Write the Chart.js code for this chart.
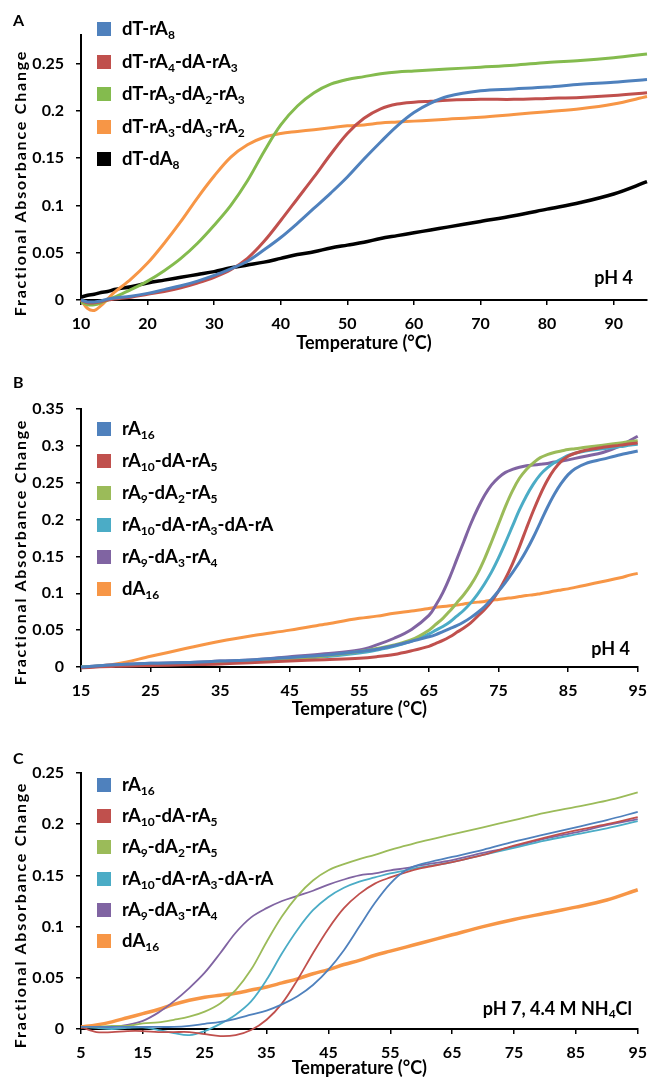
<!DOCTYPE html>
<html>
<head>
<meta charset="utf-8">
<script src="https://cdn.jsdelivr.net/npm/chart.js@4.4.1/dist/chart.umd.min.js"></script>
<style>
  body { margin: 0; width: 656px; height: 1079px; background: #fff; position: relative; overflow: hidden;
         font-family: Lato, "Open Sans", sans-serif; font-weight: bold; color: #000; }
  canvas { position: absolute; left: 0; }
  .letter { position: absolute; left: 13px; font-size: 16px; line-height: 20px; }
  .ytitle { position: absolute; font-size: 16px; letter-spacing: 1.8px; white-space: nowrap;
            transform: translate(-50%, -50%) rotate(-90deg); }
  .row { position: absolute; left: 97px; font-size: 18.5px; line-height: 22px; white-space: nowrap; }
  .sw { display: inline-block; width: 14px; height: 14px; vertical-align: -1px; margin-right: 11px; }
  sub { font-size: 12px; vertical-align: -4px; line-height: 0; }
  .note { position: absolute; font-size: 18px; line-height: 20px; white-space: nowrap; }
  .note sub { font-size: 12px; vertical-align: -3px; }
</style>
</head>
<body>
<canvas id="chartA" width="656" height="360" style="top:0px"></canvas>
<canvas id="chartB" width="656" height="366" style="top:360px"></canvas>
<canvas id="chartC" width="656" height="359" style="top:720px"></canvas>

<script>
// ---- Panel A: dT-rA8 family, pH 4 ----
const tempsA = [10, 11, 12, 13, 14, 15, 17.5, 20, 22.5, 25, 27.5, 30, 32.5, 35, 37.5, 40, 42.5, 45, 47.5, 50,
                52.5, 55, 57.5, 60, 62.5, 65, 70, 75, 80, 85, 90, 95];
const namesA = ["dT-rA8", "dT-rA4-dA-rA3", "dT-rA3-dA2-rA3", "dT-rA3-dA3-rA2", "dT-dA8"];
const dT_rA8 = [0, -0.002, -0.002, -0.001, 0.001, 0.002, 0.004, 0.007, 0.011, 0.015, 0.02, 0.026, 0.033, 0.041, 0.053, 0.066,
                0.081, 0.097, 0.113, 0.13, 0.149, 0.167, 0.184, 0.198, 0.208, 0.215, 0.221, 0.223, 0.225, 0.228, 0.23, 0.233];
const dT_rA4_dA_rA3 = [0, -0.003, -0.003, -0.002, 0, 0.001, 0.003, 0.006, 0.009, 0.013, 0.018, 0.024, 0.032, 0.044, 0.062, 0.084,
                0.107, 0.13, 0.154, 0.176, 0.192, 0.202, 0.207, 0.209, 0.21, 0.211, 0.212, 0.212, 0.213, 0.214, 0.216, 0.219];
const dT_rA3_dA2_rA3 = [-0.002, -0.005, -0.005, -0.003, 0, 0.003, 0.011, 0.02, 0.031, 0.044, 0.06, 0.079, 0.1, 0.126, 0.157, 0.185,
                0.205, 0.219, 0.228, 0.233, 0.236, 0.239, 0.241, 0.242, 0.243, 0.244, 0.246, 0.248, 0.251, 0.253, 0.256, 0.26];
const dT_rA3_dA3_rA2 = [0, -0.009, -0.011, -0.006, 0.001, 0.008, 0.022, 0.039, 0.06, 0.083, 0.108, 0.131, 0.151, 0.164, 0.172, 0.176,
                0.178, 0.18, 0.182, 0.184, 0.185, 0.187, 0.188, 0.189, 0.19, 0.191, 0.193, 0.196, 0.199, 0.202, 0.207, 0.215];
const dT_dA8 = [0.003, 0.005, 0.006, 0.008, 0.009, 0.011, 0.014, 0.018, 0.021, 0.024, 0.027, 0.03, 0.034, 0.037, 0.04, 0.044,
                0.048, 0.051, 0.055, 0.058, 0.061, 0.065, 0.068, 0.071, 0.074, 0.077, 0.083, 0.089, 0.096, 0.103, 0.112, 0.125];
const xTicksA = [10, 20, 30, 40, 50, 60, 70, 80, 90];
const yTicksA = [0, 0.05, 0.1, 0.15, 0.2, 0.25];

// ---- Panel B: rA16 family, pH 4 ----
const tempsB = [15, 20, 25, 30, 35, 40, 45, 50, 55, 57.5, 60, 62.5, 65, 66, 67, 68, 69, 70, 71, 72, 73, 74, 75, 76, 77, 78,
                79, 80, 81, 82, 83, 84, 85, 86, 87.5, 90, 92.5, 94, 95];
const namesB = ["rA16", "rA10-dA-rA5", "rA9-dA2-rA5", "rA10-dA-rA3-dA-rA", "rA9-dA3-rA4", "dA16"];
const rA16_B = [0, 0.003, 0.005, 0.006, 0.008, 0.01, 0.013, 0.016, 0.021, 0.024, 0.029, 0.035, 0.041, 0.044, 0.048, 0.052,
                0.056, 0.061, 0.067, 0.074, 0.082, 0.092, 0.103, 0.115, 0.128, 0.142, 0.158, 0.176, 0.196, 0.216, 0.234,
                0.249, 0.261, 0.269, 0.276, 0.282, 0.288, 0.291, 0.293];
const rA10_dA_rA5_B = [-0.001, 0.001, 0.002, 0.003, 0.004, 0.006, 0.008, 0.01, 0.012, 0.014, 0.017, 0.022, 0.028, 0.032, 0.036,
                0.041, 0.047, 0.053, 0.06, 0.069, 0.078, 0.089, 0.103, 0.12, 0.14, 0.163, 0.188, 0.212, 0.234, 0.253, 0.268,
                0.279, 0.286, 0.29, 0.294, 0.298, 0.301, 0.303, 0.304];
const rA9_dA2_rA5_B = [0, 0.002, 0.004, 0.005, 0.006, 0.008, 0.011, 0.015, 0.021, 0.025, 0.03, 0.037, 0.05, 0.058, 0.066, 0.076,
                0.087, 0.098, 0.111, 0.127, 0.147, 0.17, 0.194, 0.218, 0.239, 0.256, 0.268, 0.277, 0.284, 0.288, 0.291,
                0.293, 0.295, 0.296, 0.298, 0.301, 0.304, 0.306, 0.307];
const rA10_dA_rA3_dA_rA_B = [0, 0.002, 0.004, 0.005, 0.006, 0.008, 0.011, 0.014, 0.019, 0.023, 0.028, 0.035, 0.045, 0.05, 0.055,
                0.061, 0.069, 0.077, 0.087, 0.099, 0.113, 0.129, 0.148, 0.169, 0.191, 0.213, 0.232, 0.248, 0.261, 0.27,
                0.277, 0.282, 0.287, 0.29, 0.293, 0.296, 0.299, 0.301, 0.302];
const rA9_dA3_rA4_B = [0, 0.003, 0.005, 0.006, 0.008, 0.01, 0.014, 0.018, 0.023, 0.03, 0.039, 0.051, 0.07, 0.084, 0.101, 0.122,
                0.146, 0.17, 0.194, 0.215, 0.233, 0.247, 0.257, 0.264, 0.268, 0.271, 0.273, 0.274, 0.275, 0.276, 0.278,
                0.279, 0.281, 0.283, 0.286, 0.291, 0.3, 0.308, 0.313];
const dA16_B = [-0.001, 0.004, 0.0145, 0.025, 0.035, 0.043, 0.05, 0.058, 0.066, 0.069, 0.073, 0.076, 0.0795, 0.081, 0.082, 0.083,
                0.084, 0.0855, 0.087, 0.088, 0.089, 0.0905, 0.0916, 0.093, 0.094, 0.0955, 0.097, 0.098, 0.0995, 0.101,
                0.103, 0.1045, 0.106, 0.108, 0.111, 0.116, 0.121, 0.125, 0.127];
const xTicksB = [15, 25, 35, 45, 55, 65, 75, 85, 95];
const yTicksB = [0, 0.05, 0.1, 0.15, 0.2, 0.25, 0.3, 0.35];

// ---- Panel C: rA16 family, pH 7, 4.4 M NH4Cl ----
const tempsC = [5, 7.5, 10, 12.5, 15, 17.5, 20, 22.5, 25, 27.5, 30, 32.5, 35, 37.5, 40, 42.5, 45, 47.5, 50, 52.5, 55, 57.5,
                60, 65, 70, 75, 80, 85, 90, 95];
const namesC = ["rA16", "rA10-dA-rA5", "rA9-dA2-rA5", "rA10-dA-rA3-dA-rA", "rA9-dA3-rA4", "dA16"];
const rA16_C = [0.002, 0.002, 0.002, 0.002, 0.002, 0.002, 0.002, 0.003, 0.005, 0.007, 0.01, 0.014, 0.018, 0.024, 0.032, 0.043,
                0.058, 0.077, 0.1, 0.123, 0.142, 0.155, 0.161, 0.168, 0.175, 0.183, 0.19, 0.197, 0.204, 0.212];
const rA10_dA_rA5_C = [0.002, -0.003, -0.003, -0.002, -0.002, -0.003, -0.003, -0.003, -0.005, -0.007, -0.006, -0.001, 0.009,
                0.025, 0.048, 0.074, 0.098, 0.118, 0.132, 0.142, 0.148, 0.153, 0.157, 0.163, 0.17, 0.179, 0.187, 0.194, 0.2, 0.207];
const rA9_dA2_rA5_C = [0.002, 0.002, 0.003, 0.003, 0.0055, 0.0065, 0.009, 0.012, 0.017, 0.025, 0.038, 0.058, 0.085, 0.11, 0.13,
                0.145, 0.155, 0.161, 0.166, 0.17, 0.175, 0.179, 0.183, 0.19, 0.197, 0.204, 0.211, 0.217, 0.223, 0.231];
const rA10_dA_rA3_dA_rA_C = [0.002, 0.001, 0, 0.001, 0.0015, -0.001, -0.004, -0.006, -0.002, 0.005, 0.014, 0.027, 0.048, 0.074,
                0.097, 0.116, 0.129, 0.138, 0.144, 0.148, 0.152, 0.155, 0.158, 0.163, 0.17, 0.177, 0.184, 0.19, 0.196, 0.203];
const rA9_dA3_rA4_C = [0.002, 0.002, 0.002, 0.004, 0.008, 0.016, 0.027, 0.04, 0.055, 0.074, 0.094, 0.109, 0.118, 0.125, 0.13,
                0.135, 0.141, 0.146, 0.15, 0.152, 0.155, 0.157, 0.16, 0.165, 0.172, 0.178, 0.186, 0.192, 0.199, 0.205];
const dA16_C = [0.002, 0.004, 0.007, 0.011, 0.015, 0.019, 0.024, 0.028, 0.031, 0.033, 0.035, 0.038, 0.041, 0.045, 0.049, 0.054,
                0.058, 0.063, 0.067, 0.072, 0.076, 0.08, 0.084, 0.092, 0.1, 0.107, 0.113, 0.119, 0.126, 0.136];
const xTicksC = [5, 15, 25, 35, 45, 55, 65, 75, 85, 95];
const yTicksC = [0, 0.05, 0.1, 0.15, 0.2, 0.25];

// colours
const colorsA = ["#4F81BD", "#C0504D", "#84BB4E", "#F79646", "#000000"];
const colorsBC = ["#4F81BD", "#C0504D", "#9BBB59", "#4BACC6", "#8064A2", "#F79646"];

const panels = [
    { id: "chartA", letter: "A", temps: tempsA, names: namesA,
      series: [dT_rA8, dT_rA4_dA_rA3, dT_rA3_dA2_rA3, dT_rA3_dA3_rA2, dT_dA8],
      colors: colorsA, widths: [3, 3, 3, 3, 3.5],
      xMin: 10, xMax: 95, yMax: 0.28, xTicks: xTicksA, yTicks: yTicksA,
      padTop: 35, padRight: 9, xHeight: 60, titlePad: 6,
      legendTop: 28, legendStep: 32.5, yTitleY: 183, letterY: 10,
      note: "pH 4", noteRight: 633, noteY: 277 },
    { id: "chartB", letter: "B", temps: tempsB, names: namesB,
      series: [rA16_B, rA10_dA_rA5_B, rA9_dA2_rA5_B, rA10_dA_rA3_dA_rA_B, rA9_dA3_rA4_B, dA16_B],
      colors: colorsBC, widths: [3, 3, 3, 3, 3, 3],
      xMin: 15, xMax: 95, yMax: 0.35, xTicks: xTicksB, yTicks: yTicksB,
      padTop: 49, padRight: 13, xHeight: 59, titlePad: 6,
      legendTop: 428, legendStep: 32, yTitleY: 552, letterY: 372,
      note: "pH 4", noteRight: 630, noteY: 648 },
    { id: "chartC", letter: "C", temps: tempsC, names: namesC,
      series: [rA16_C, rA10_dA_rA5_C, rA9_dA2_rA5_C, rA10_dA_rA3_dA_rA_C, rA9_dA3_rA4_C, dA16_C],
      colors: colorsBC, widths: [1.8, 1.8, 1.8, 1.8, 1.8, 3.5],
      xMin: 5, xMax: 95, yMax: 0.25, xTicks: xTicksC, yTicks: yTicksC,
      padTop: 53, padRight: 13, xHeight: 50, titlePad: 0,
      legendTop: 784, legendStep: 31.2, yTitleY: 915, letterY: 748,
      note: "pH 7, 4.4 M NH<sub>4</sub>Cl", noteRight: 632, noteY: 1008 }
];

Chart.defaults.font.family = "Lato, 'Open Sans', sans-serif";
Chart.defaults.font.weight = "bold";
Chart.defaults.font.size = 16;
Chart.defaults.color = "#000";

function fmt(v) {
    return String(+v.toFixed(2));
}

function addHtml(cls, html, style) {
    const el = document.createElement("div");
    el.className = cls;
    el.innerHTML = html;
    Object.assign(el.style, style);
    document.body.appendChild(el);
}

function renderPanel(p) {
    const datasets = p.series.map((vals, i) => ({
        label: p.names[i],
        data: p.temps.map((t, j) => ({ x: t, y: vals[j] })),
        borderColor: p.colors[i],
        backgroundColor: p.colors[i],
        borderWidth: p.widths[i],
        pointRadius: 0,
        tension: 0.35,
        fill: false,
        clip: false,
    }));

    new Chart(document.getElementById(p.id), {
        type: "line",
        data: { datasets: datasets },
        options: {
            responsive: false,
            animation: false,
            devicePixelRatio: 1,
            layout: { padding: { top: p.padTop, right: p.padRight, left: 0, bottom: 0 } },
            plugins: { legend: { display: false }, tooltip: { enabled: false } },
            scales: {
                x: {
                    type: "linear",
                    min: p.xMin,
                    max: p.xMax,
                    afterBuildTicks: (s) => { s.ticks = p.xTicks.map((v) => ({ value: v })); },
                    afterFit: (s) => { s.height = p.xHeight; },
                    ticks: { padding: 9, maxRotation: 0, autoSkip: false, callback: (v) => String(v) },
                    grid: { drawOnChartArea: false, color: "#000", lineWidth: 1.5, tickLength: 5 },
                    border: { color: "#000", width: 2 },
                    title: { display: true, text: "Temperature (°C)", font: { size: 18, weight: "bold" },
                             padding: { top: 0, bottom: p.titlePad } },
                },
                y: {
                    min: 0,
                    max: p.yMax,
                    afterBuildTicks: (s) => { s.ticks = p.yTicks.map((v) => ({ value: v })); },
                    afterFit: (s) => { s.width = 81; },
                    ticks: { padding: 12, callback: (v) => fmt(v) },
                    grid: { drawOnChartArea: false, color: "#000", lineWidth: 1.5, tickLength: 5 },
                    border: { color: "#000", width: 2 },
                },
            },
        },
    });

    // panel letter, y title, legend and condition note
    addHtml("letter", p.letter, { top: p.letterY + "px" });
    addHtml("ytitle", "Fractional Absorbance Change", { left: "19px", top: p.yTitleY + "px" });
    p.names.forEach((name, i) => {
        const label = name.replace(/(\d+)/g, "<sub>$1</sub>");
        addHtml("row", '<span class="sw" style="background:' + p.colors[i] + '"></span>' + label,
                { top: (p.legendTop + i * p.legendStep - 11) + "px" });
    });
    addHtml("note", p.note, { right: (656 - p.noteRight) + "px", top: (p.noteY - 10) + "px" });
}

panels.forEach(renderPanel);
</script>
</body>
</html>
